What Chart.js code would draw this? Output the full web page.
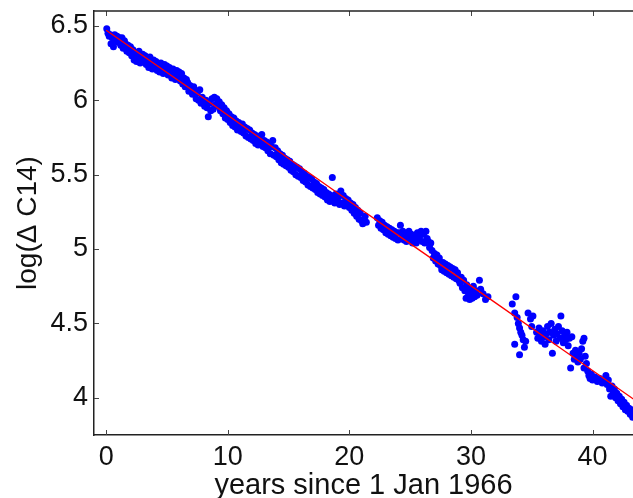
<!DOCTYPE html>
<html>
<head>
<meta charset="utf-8">
<script src="https://cdn.jsdelivr.net/npm/chart.js@4.4.1/dist/chart.umd.min.js"></script>
<style>
  html, body { margin: 0; padding: 0; background: #fff; overflow: hidden; }
  #wrap { width: 633px; height: 498px; }
</style>
</head>
<body>
<div id="wrap"><canvas id="myChart" width="633" height="498"></canvas></div>
<script>
// measured samples (years since 1 Jan 1966, log of delta C14)
var years = [
  0.05, 0.15, 0.25, 0.35, 0.4, 0.5, 0.6, 0.7, 0.8, 0.9, 1.0, 1.1,
  1.2, 1.3, 1.4, 1.5, 1.6, 1.7, 1.8, 1.9, 2.0,
  2.1, 2.2, 2.3, 2.4, 2.5, 2.6, 2.7, 2.8, 2.9, 3.0,
  3.1, 3.2, 3.3, 3.4, 3.5, 3.6, 3.7, 3.8, 3.9, 4.0,
  4.1, 4.2, 4.3, 4.4, 4.5, 4.6, 4.7, 4.8, 4.9, 5.0,
  5.1, 5.2, 5.3, 5.4, 5.5, 5.6, 5.7, 5.8, 5.9, 6.0,
  6.1, 6.2, 6.3, 6.4, 6.5, 6.6, 6.7, 6.8, 6.9, 7.0,
  7.1, 7.2, 7.3, 7.4, 7.5, 7.6, 7.7, 7.8, 7.9, 8.0,
  8.1, 8.2, 8.3, 8.4, 8.5, 8.6, 8.7, 8.8, 8.9, 9.0,
  9.1, 9.2, 9.3, 9.4, 9.5, 9.6, 9.7, 9.8, 9.9, 10.0,
  10.1, 10.2, 10.3, 10.4, 10.5, 10.6, 10.7, 10.8, 10.9, 11.0,
  11.1, 11.2, 11.3, 11.4, 11.5, 11.6, 11.7, 11.8, 11.9, 12.0,
  12.1, 12.2, 12.3, 12.4, 12.5, 12.6, 12.7, 12.8, 12.9, 13.0,
  13.1, 13.2, 13.3, 13.4, 13.5, 13.6, 13.7, 13.8, 13.9, 14.0,
  14.1, 14.2, 14.3, 14.4, 14.5, 14.6, 14.7, 14.8, 14.9, 15.0,
  15.1, 15.2, 15.3, 15.4, 15.5, 15.6, 15.7, 15.8, 15.9, 16.0,
  16.1, 16.2, 16.3, 16.4, 16.5, 16.6, 16.7, 16.8, 16.9, 17.0,
  17.1, 17.2, 17.3, 17.4, 17.5, 17.6, 17.7, 17.8, 17.9, 18.0,
  18.1, 18.2, 18.3, 18.4, 18.5, 18.6, 18.7, 18.8, 18.9, 19.0,
  19.1, 19.2, 19.3, 19.4, 19.5, 19.6, 19.7, 19.8, 19.9, 20.0,
  20.1, 20.2, 20.3, 20.4, 20.5, 20.6, 20.7, 20.8, 20.9, 21.0, 21.1, 21.3, 21.4,
  22.3, 22.4, 22.5, 22.6, 22.7, 22.8, 22.9, 23.0, 23.1, 23.2, 23.3, 23.4, 23.5, 23.6, 23.7, 23.8, 23.9, 24.0,
  24.1, 24.2, 24.3, 24.4, 24.5, 24.6, 24.7, 24.8, 24.9, 25.0, 25.1, 25.2, 25.3, 25.4,
  25.5, 25.6, 25.7, 25.8, 25.9, 26.0, 26.1, 26.2, 26.3, 26.4, 26.5, 26.6, 26.7,
  26.8, 26.9, 27.0, 27.1, 27.2, 27.3, 27.4, 27.5, 27.6, 27.7, 27.8, 27.9,
  28.0, 28.1, 28.2, 28.3, 28.4, 28.5, 28.6, 28.7, 28.8, 28.9, 29.0,
  29.1, 29.2, 29.3, 29.4, 29.5, 29.6, 29.7, 29.8, 29.9, 30.0, 30.1, 30.2, 30.3, 30.4,
  30.5, 30.7, 30.8, 31.0, 31.2, 31.4, 29.65, 29.95, 30.15,
  33.4, 33.6, 33.7, 33.8, 33.6, 33.9, 34.0, 34.1, 34.2, 34.3, 34.0, 34.4, 34.5, 34.7, 34.9, 35.0, 35.1,
  35.4, 35.5, 35.6, 35.7, 35.8, 35.9, 36.0, 36.1, 36.2, 36.3, 36.4, 36.5, 36.6, 36.7, 36.8,
  36.9, 37.0, 37.1, 37.2, 37.3, 37.4, 37.5, 37.6, 37.7, 37.8, 37.9, 38.0, 38.1, 38.3,
  38.2, 38.4, 38.5, 38.6, 38.7, 38.8, 38.9, 39.0, 39.1, 39.2, 39.3, 39.4, 39.5, 39.3, 39.6,
  39.7, 39.8, 39.9, 40.0, 40.2, 40.4, 40.6, 40.8, 41.0, 41.1,
  41.2, 41.3, 41.4, 41.5, 41.6, 41.7, 41.8, 41.9, 42.0, 42.1, 42.2,
  42.3, 42.4, 42.5, 42.6, 42.7, 42.8, 42.9, 43.0, 43.1, 43.2, 43.3
];
var logC14 = [
  6.48, 6.45, 6.43, 6.44, 6.38, 6.42, 6.36, 6.44, 6.40, 6.43, 6.39, 6.42,
  6.37, 6.42, 6.35, 6.40, 6.38, 6.33, 6.37, 6.32, 6.36,
  6.30, 6.34, 6.27, 6.32, 6.26, 6.30, 6.33, 6.25, 6.29, 6.31,
  6.26, 6.30, 6.24, 6.28, 6.22, 6.29, 6.25, 6.21, 6.27, 6.22,
  6.26, 6.20, 6.24, 6.19, 6.25, 6.21, 6.18, 6.24, 6.20, 6.23,
  6.17, 6.22, 6.19, 6.15, 6.21, 6.18, 6.14, 6.20, 6.16, 6.19,
  6.13, 6.18, 6.11, 6.15, 6.09, 6.14, 6.12, 6.06, 6.10, 6.08,
  6.04, 6.09, 6.06, 6.01, 6.05, 6.00, 6.07, 5.98, 6.02, 5.99,
  5.96, 6.00, 5.95, 5.89, 5.98, 5.93, 6.01, 5.94, 6.02, 5.97,
  6.01, 5.96, 5.99, 5.93, 5.97, 5.91, 5.95, 5.88, 5.93, 5.87,
  5.91, 5.85, 5.89, 5.83, 5.88, 5.82, 5.86, 5.80, 5.85, 5.82,
  5.79, 5.84, 5.78, 5.82, 5.76, 5.81, 5.75, 5.80, 5.74, 5.78,
  5.73, 5.77, 5.71, 5.76, 5.70, 5.74, 5.72, 5.77, 5.69, 5.73,
  5.68, 5.72, 5.66, 5.71, 5.64, 5.69, 5.73, 5.63, 5.68, 5.62,
  5.66, 5.60, 5.64, 5.58, 5.63, 5.57, 5.61, 5.56, 5.60, 5.55,
  5.59, 5.53, 5.57, 5.52, 5.56, 5.50, 5.55, 5.49, 5.54, 5.48,
  5.52, 5.46, 5.51, 5.45, 5.49, 5.43, 5.48, 5.42, 5.47, 5.41,
  5.45, 5.40, 5.44, 5.38, 5.42, 5.37, 5.41, 5.36, 5.40, 5.35,
  5.38, 5.33, 5.37, 5.32, 5.36, 5.48, 5.34, 5.31, 5.37, 5.32,
  5.35, 5.30, 5.39, 5.31, 5.36, 5.29, 5.34, 5.30, 5.33, 5.28,
  5.31, 5.26, 5.30, 5.24, 5.28, 5.22, 5.26, 5.20, 5.24, 5.19, 5.17, 5.22, 5.18,
  5.21, 5.16, 5.19, 5.14, 5.18, 5.13, 5.16, 5.11, 5.15, 5.10, 5.14, 5.09, 5.13, 5.08, 5.12, 5.07, 5.11, 5.06,
  5.11, 5.16, 5.07, 5.12, 5.06, 5.10, 5.05, 5.09, 5.12, 5.06, 5.10, 5.04, 5.09, 5.06,
  5.04, 5.11, 5.06, 5.09, 5.12, 5.05, 5.10, 5.04, 5.12, 5.07, 5.05, 5.01, 5.04,
  4.99, 4.94, 4.97, 4.92, 4.96, 4.90, 4.94, 4.89, 4.86, 4.91, 4.85, 4.90,
  4.84, 4.89, 4.83, 4.88, 4.82, 4.87, 4.81, 4.86, 4.80, 4.84, 4.79,
  4.77, 4.81, 4.74, 4.79, 4.72, 4.67, 4.74, 4.70, 4.66, 4.73, 4.67, 4.75, 4.68, 4.72,
  4.69, 4.79, 4.73, 4.70, 4.66, 4.68, 4.76, 4.71, 4.70,
  4.63, 4.57, 4.68, 4.54, 4.36, 4.50, 4.47, 4.44, 4.42, 4.39, 4.29, 4.34, 4.38, 4.57, 4.53, 4.48, 4.55,
  4.44, 4.40, 4.47, 4.42, 4.38, 4.45, 4.41, 4.36, 4.43, 4.48, 4.39, 4.44, 4.50, 4.30, 4.42,
  4.46, 4.38, 4.43, 4.48, 4.40, 4.55, 4.45, 4.37, 4.42, 4.39, 4.44, 4.35, 4.40, 4.41,
  4.20, 4.30, 4.26, 4.32, 4.28, 4.24, 4.30, 4.26, 4.33, 4.38, 4.40, 4.28, 4.23, 4.20, 4.18,
  4.15, 4.13, 4.16, 4.12, 4.14, 4.11, 4.13, 4.10, 4.12, 4.15,
  4.09, 4.12, 4.06, 4.01, 4.08, 4.04, 4.06, 4.00, 4.03, 3.98, 4.01,
  3.96, 3.99, 3.94, 3.97, 3.92, 3.95, 3.91, 3.93, 3.89, 3.92, 3.87
];

// fitted decay curve (red)
var fitYears = [0, 8.1, 16.2, 24.4, 32.0, 43.4];
var fitValues = [6.47, 6.01, 5.54, 5.07, 4.64, 3.99];

// axis ticks
var xTicks = [0, 10, 20, 30, 40];
var yTicks = [4, 4.5, 5, 5.5, 6, 6.5];

var points = years.map(function (t, i) { return { x: t, y: logC14[i] }; });
var fitLine = fitYears.map(function (t, i) { return { x: t, y: fitValues[i] }; });

var fontFamily = '"Liberation Sans", Arial, Helvetica, sans-serif';

// matlab style box: top border plus inward ticks
var boxTicks = {
    id: 'boxTicks',
    afterDatasetsDraw: function (chart) {
        var ctx = chart.ctx;
        var a = chart.chartArea;
        var xs = chart.scales.x;
        var ys = chart.scales.y;
        ctx.save();
        ctx.strokeStyle = '#444';
        ctx.lineWidth = 1;
        ctx.beginPath();
        xs.ticks.forEach(function (t) {
            var px = Math.round(xs.getPixelForValue(t.value)) + 0.5;
            ctx.moveTo(px, a.bottom);
            ctx.lineTo(px, a.bottom - 5);
            ctx.moveTo(px, a.top);
            ctx.lineTo(px, a.top + 5);
        });
        ys.ticks.forEach(function (t) {
            var py = Math.round(ys.getPixelForValue(t.value)) + 0.5;
            ctx.moveTo(a.left, py);
            ctx.lineTo(a.left + 5, py);
        });
        ctx.stroke();
        ctx.strokeStyle = '#222';
        ctx.lineWidth = 1.5;
        ctx.beginPath();
        ctx.moveTo(a.left, a.top);
        ctx.lineTo(a.right, a.top);
        ctx.stroke();
        ctx.restore();
    }
};

var ctx = document.getElementById('myChart').getContext('2d');
var myChart = new Chart(ctx, {
    type: 'scatter',
    data: {
        datasets: [
            {
                label: 'fit',
                type: 'line',
                data: fitLine,
                showLine: true,
                borderColor: '#ff0000',
                borderWidth: 1.3,
                pointRadius: 0,
                fill: false,
                tension: 0.3,
                order: 0
            },
            {
                label: 'log(delta C14)',
                data: points,
                backgroundColor: '#0000ff',
                borderWidth: 0,
                pointRadius: 3.5,
                order: 1
            }
        ]
    },
    options: {
        responsive: false,
        animation: false,
        layout: {
            autoPadding: false,
            padding: { top: 11, right: 0, bottom: 0, left: 0 }
        },
        plugins: {
            legend: { display: false },
            tooltip: { enabled: false }
        },
        scales: {
            x: {
                type: 'linear',
                position: 'bottom',
                min: -1.0,
                max: 43.33,
                afterBuildTicks: function (scale) {
                    scale.ticks = xTicks.map(function (v) { return { value: v }; });
                },
                afterFit: function (scale) {
                    scale.height = 63;
                    scale.paddingLeft = 0;
                    scale.paddingRight = 0;
                },
                grid: { drawOnChartArea: false, drawTicks: false, color: 'rgba(0,0,0,0)' },
                border: { display: true, color: '#222', width: 1.5 },
                ticks: {
                    color: '#111',
                    padding: 6,
                    maxRotation: 0,
                    font: { family: fontFamily, size: 27 }
                },
                title: {
                    display: true,
                    text: 'years since 1 Jan 1966',
                    color: '#111',
                    padding: { top: 0, bottom: 0 },
                    font: { family: fontFamily, size: 29, lineHeight: 0.8 }
                }
            },
            y: {
                type: 'linear',
                position: 'left',
                min: 3.75,
                max: 6.6,
                afterBuildTicks: function (scale) {
                    scale.ticks = yTicks.map(function (v) { return { value: v }; });
                },
                afterFit: function (scale) {
                    scale.width = 94;
                    scale.paddingTop = 0;
                    scale.paddingBottom = 0;
                },
                grid: { drawOnChartArea: false, drawTicks: false, color: 'rgba(0,0,0,0)' },
                border: { display: true, color: '#222', width: 1.5 },
                ticks: {
                    color: '#111',
                    padding: 6,
                    font: { family: fontFamily, size: 27 },
                    callback: function (v) { return String(v); }
                },
                title: {
                    display: true,
                    text: 'log(\u0394 C14)',
                    color: '#111',
                    padding: { top: 11, bottom: 0 },
                    font: { family: fontFamily, size: 28 }
                }
            }
        }
    },
    plugins: [boxTicks]
});
</script>
</body>
</html>
